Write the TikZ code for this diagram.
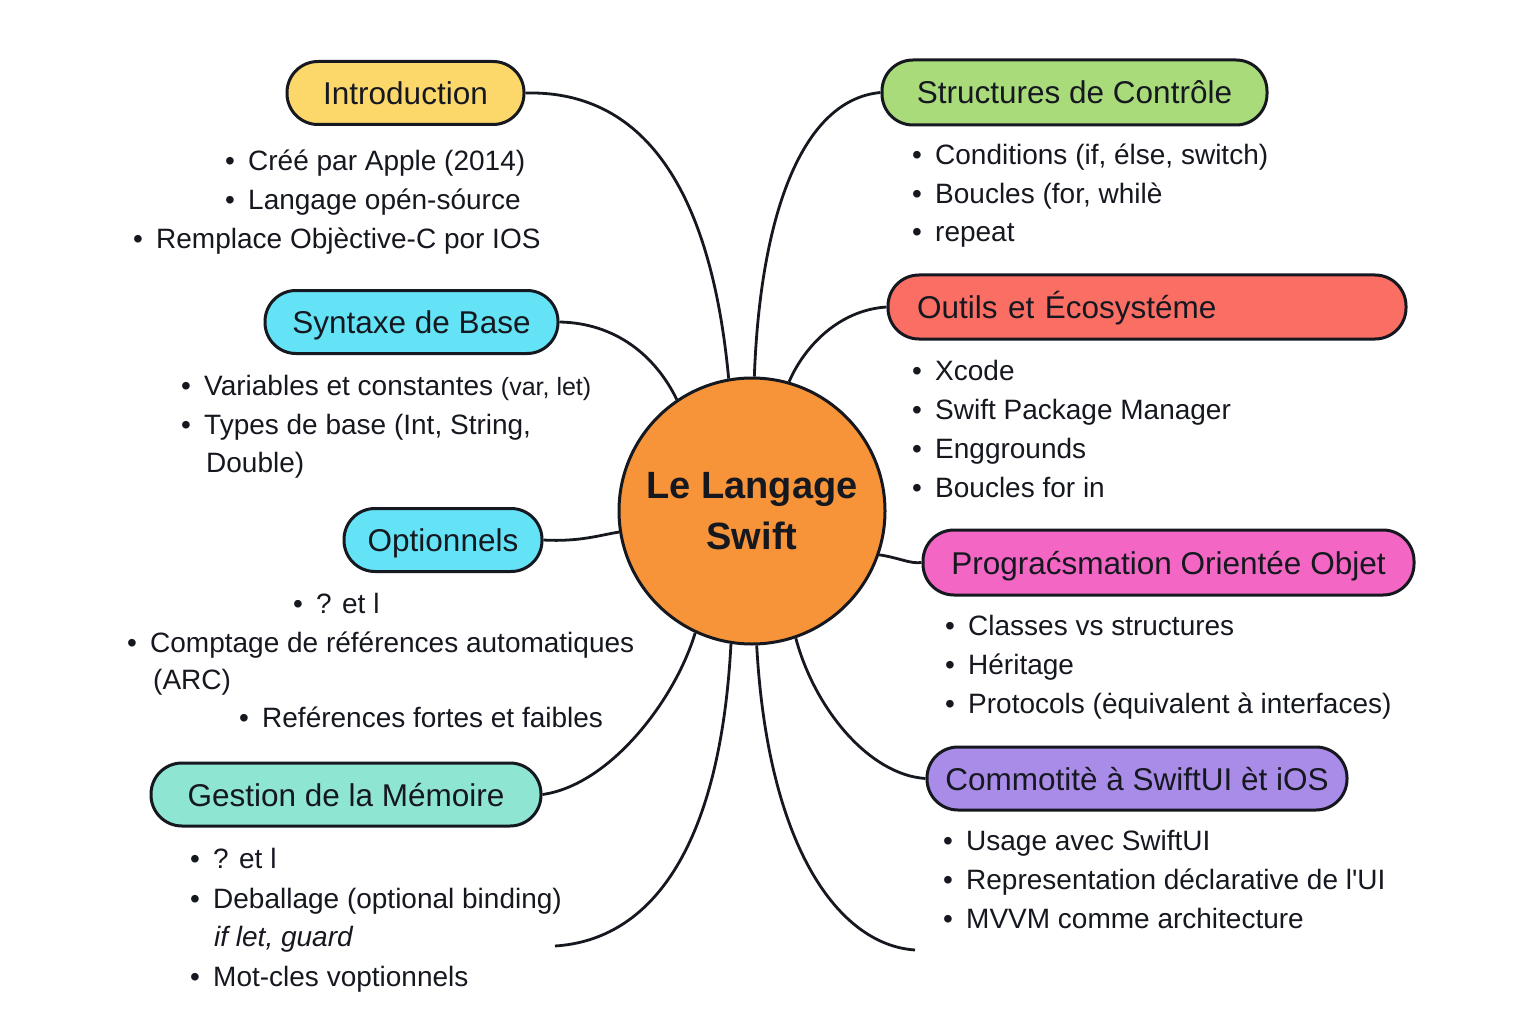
\documentclass[tikz,border=0pt]{standalone}
\usepackage{fontspec}
\setmainfont{Liberation Sans}
\usepackage{tikz}
\definecolor{ink}{RGB}{22,24,32}
\definecolor{swiftOrange}{RGB}{247,148,58}
\definecolor{introYellow}{RGB}{252,216,107}
\definecolor{baseCyan}{RGB}{100,227,247}
\definecolor{memMint}{RGB}{142,229,210}
\definecolor{ctrlGreen}{RGB}{170,219,122}
\definecolor{toolRed}{RGB}{251,110,100}
\definecolor{pooPink}{RGB}{243,102,196}
\definecolor{uiPurple}{RGB}{169,139,232}
\newcommand{\bl}{\makebox[23pt][l]{\textbullet}}

\begin{document}
\begin{tikzpicture}[x=1pt,y=-1pt,
  pill/.style={draw=ink,line width=3pt,rounded corners=31pt,minimum height=63pt,
    inner xsep=0pt,inner ysep=0pt,text height=27pt,text depth=4pt,text=ink,
    font=\fontsize{31.5}{36}\selectfont},
  core/.style={circle,draw=ink,line width=3pt,fill=swiftOrange,minimum size=266pt,
    inner sep=0pt,align=center,text=ink,font=\bfseries\fontsize{38}{51}\selectfont},
  item/.style={anchor=base west,inner sep=0pt,text=ink,font=\fontsize{28}{33}\selectfont},
  link/.style={draw=ink,line width=2.8pt}]
  \useasboundingbox (0,0) rectangle (1536,1024);
  \fill[white] (0,0) rectangle (1536,1024);

  % centre
  \node[core] (core) at (752,511) {Le Langage\\Swift};

  % left branches
  \node[pill,fill=introYellow,minimum width=237pt] (intro) at (405.5,93) {Introduction};
  \node[pill,fill=baseCyan,minimum width=293pt] (syntaxe) at (411.5,322) {Syntaxe de Base};
  \node[pill,fill=baseCyan,minimum width=198pt] (option) at (443,540) {Optionnels};
  \node[pill,fill=memMint,minimum width=390pt] (gestion) at (346,794.5) {Gestion de la Mémoire};

  % right branches
  \node[pill,fill=ctrlGreen,minimum width=385pt,minimum height=65pt] (struct) at (1074.5,92.5) {Structures de Contrôle};
  \node[pill,fill=toolRed,text width=460pt,align=left,inner xsep=29pt,minimum height=64pt] (outils) at (1147,307) {Outils et Écosystéme};
  \node[pill,fill=pooPink,minimum width=491pt,minimum height=65pt] (poo) at (1168.5,562.5) {Prograćsmation Orientée Objet};
  \node[pill,fill=uiPurple,minimum width=420pt] (commo) at (1137,778.5) {Commotitè à SwiftUI èt iOS};

  % loose ends at the bottom
  \coordinate (endL) at (555,946);
  \coordinate (endR) at (915,950);

  % connectors
  \draw[link] (intro.east) .. controls (650,90) and (712,200) .. (core.100);
  \draw[link] (syntaxe.east) .. controls (615,323) and (655,355) .. (core.124);
  \draw[link] (option.east) .. controls (580,542) and (600,535) .. (core.189);
  \draw[link] (gestion.east) .. controls (610,785) and (675,700) .. (core.245);
  \draw[link] (core.261) .. controls (720,850) and (650,940) .. (endL);
  \draw[link] (struct.west) .. controls (800,100) and (760,220) .. (core.89);
  \draw[link] (outils.west) .. controls (840,310) and (805,345) .. (core.74);
  \draw[link] (core.341) .. controls (900,558) and (910,564) .. (poo.west);
  \draw[link] (core.289) .. controls (815,710) and (870,775) .. (commo.west);
  \draw[link] (core.272) .. controls (768,850) and (840,945) .. (endR);

  % introduction items
  \node[item] (intro1) at (225,171) {\bl Créé par Apple (2014)};
  \node[item] (intro2) at (225,210) {\bl Langage opén-sóurce};
  \node[item] (intro3) at (133,249) {\bl Remplace Objèctive-C por IOS};

  % syntaxe items
  \node[item] (syn1) at (181,395) {\bl Variables et constantes {\fontsize{25}{30}\selectfont(var, let)}};
  \node[item] (syn2) at (181,434) {\bl Types de base (Int, String,};
  \node[item] (syn3) at (206,472) {Double)};

  % optionnels items
  \node[item] (opt1) at (293,613) {\bl ? et l};
  \node[item] (opt2) at (127,652) {\bl Comptage de références automatiques};
  \node[item] (opt3) at (153,689) {(ARC)};
  \node[item] (opt4) at (239,727) {\bl Reférences fortes et faibles};

  % memoire items
  \node[item] (mem1) at (190,868) {\bl ? et l};
  \node[item] (mem2) at (190,908) {\bl Deballage (optional binding)};
  \node[item] (mem3) at (214,946) {\itshape if let, guard};
  \node[item] (mem4) at (190,986) {\bl Mot-cles voptionnels};

  % controle items
  \node[item] (ctl1) at (912,165) {\bl Conditions (if, élse, switch)};
  \node[item] (ctl2) at (912,204) {\bl Boucles (for, whilè};
  \node[item] (ctl3) at (912,242) {\bl repeat};

  % outils items
  \node[item] (out1) at (912,380) {\bl Xcode};
  \node[item] (out2) at (912,419) {\bl Swift Package Manager};
  \node[item] (out3) at (912,458) {\bl Enggrounds};
  \node[item] (out4) at (912,497) {\bl Boucles for in};

  % poo items
  \node[item] (poo1) at (945,635) {\bl Classes vs structures};
  \node[item] (poo2) at (945,674) {\bl Héritage};
  \node[item] (poo3) at (945,713) {\bl Protocols (ėquivalent à interfaces)};

  % swiftui items
  \node[item] (ui1) at (943,850) {\bl Usage avec SwiftUI};
  \node[item] (ui2) at (943,889) {\bl Representation déclarative de l\textquotesingle UI};
  \node[item] (ui3) at (943,928) {\bl MVVM comme architecture};
\end{tikzpicture}
\end{document}
